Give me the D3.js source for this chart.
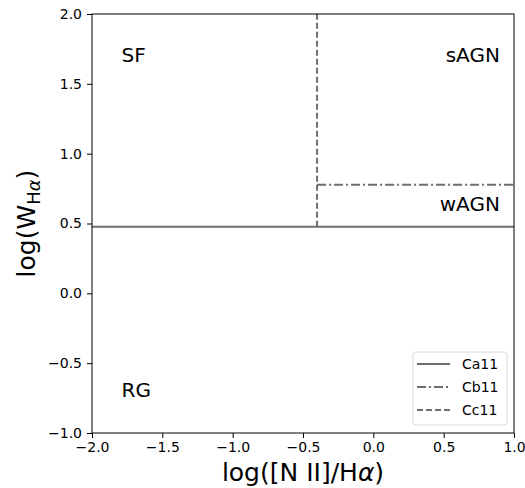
<!DOCTYPE html>
<html>
<head>
<meta charset="utf-8">
<script src="https://cdn.jsdelivr.net/npm/d3@7"></script>
<style>
  body { margin: 0; background: #fff; }
  text { font-family: "DejaVu Sans", sans-serif; }
</style>
</head>
<body>
<svg id="chart" width="525" height="488"></svg>
<script>
// Line definitions (x, y in log units)
const ca11 = [[-2, 0.477], [1, 0.477]];
const cb11 = [[-0.4, 0.778], [1, 0.778]];
const cc11 = [[-0.4, 0.477], [-0.4, 2]];
const series = [
  { name: "Ca11", points: ca11, dash: null },
  { name: "Cb11", points: cb11, dash: "9,3,2,3" },
  { name: "Cc11", points: cc11, dash: "6,3" }
];
const regionLabels = [
  { text: "SF", x: -1.79, y: 1.71, anchor: "start" },
  { text: "sAGN", x: 0.9, y: 1.71, anchor: "end" },
  { text: "wAGN", x: 0.9, y: 0.64, anchor: "end" },
  { text: "RG", x: -1.79, y: -0.69, anchor: "start" }
];
const xTicks = [-2.0, -1.5, -1.0, -0.5, 0.0, 0.5, 1.0];
const yTicks = [-1.0, -0.5, 0.0, 0.5, 1.0, 1.5, 2.0];

const margin = { top: 14, right: 11, bottom: 55, left: 92 };
const width = 525 - margin.left - margin.right;
const height = 488 - margin.top - margin.bottom;
const lineColor = "#6e6e6e";

const svg = d3.select("#chart");
const g = svg.append("g").attr("transform", `translate(${margin.left},${margin.top})`);

const x = d3.scaleLinear().domain([-2, 1]).range([0, width]);
const y = d3.scaleLinear().domain([-1, 2]).range([height, 0]);

const fmt = d => d3.format(".1f")(d).replace("-", "\u2212");

// Axes
const xAxis = g.append("g")
  .attr("transform", `translate(0,${height})`)
  .call(d3.axisBottom(x).tickValues(xTicks).tickFormat(fmt).tickSize(5).tickPadding(4));
const yAxis = g.append("g")
  .call(d3.axisLeft(y).tickValues(yTicks).tickFormat(fmt).tickSize(5).tickPadding(5));
[xAxis, yAxis].forEach(a => {
  a.attr("font-size", 14).attr("font-family", null);
  a.select(".domain").remove();
  a.selectAll("line").attr("stroke", "#000").attr("stroke-width", 1);
  a.selectAll("text").attr("fill", "#000");
});

// Lines
const line = d3.line().x(d => x(d[0])).y(d => y(d[1]));
series.forEach(s => {
  g.append("path")
    .datum(s.points)
    .attr("d", line)
    .attr("fill", "none")
    .attr("stroke", lineColor)
    .attr("stroke-width", 2)
    .attr("stroke-dasharray", s.dash);
});

// Frame
g.append("rect")
  .attr("width", width).attr("height", height)
  .attr("fill", "none").attr("stroke", "#000").attr("stroke-width", 1);

// Region labels
g.selectAll(".region")
  .data(regionLabels)
  .enter().append("text")
  .attr("class", "region")
  .attr("x", d => x(d.x))
  .attr("y", d => y(d.y))
  .attr("dy", "0.36em")
  .attr("text-anchor", d => d.anchor)
  .attr("font-size", 20)
  .text(d => d.text);

// Legend
const legend = g.append("g").attr("transform", `translate(${width - 101},${height - 81})`);
legend.append("rect")
  .attr("width", 94).attr("height", 73)
  .attr("rx", 3)
  .attr("fill", "#fff").attr("fill-opacity", 0.8)
  .attr("stroke", "#d8d8d8");
series.forEach((s, i) => {
  const row = legend.append("g").attr("transform", `translate(4,${12 + i * 23})`);
  row.append("line")
    .attr("x1", 0).attr("x2", 33).attr("y1", 0).attr("y2", 0)
    .attr("stroke", lineColor).attr("stroke-width", 2)
    .attr("stroke-dasharray", s.dash);
  row.append("text")
    .attr("x", 45).attr("dy", "0.36em")
    .attr("font-size", 14)
    .text(s.name);
});

// Axis labels
svg.append("text")
  .attr("x", margin.left + width / 2)
  .attr("y", 481)
  .attr("text-anchor", "middle")
  .attr("font-size", 25)
  .html('log([N II]/H<tspan font-style="italic">α</tspan>)');

svg.append("text")
  .attr("transform", `translate(35,${margin.top + height / 2}) rotate(-90)`)
  .attr("text-anchor", "middle")
  .attr("font-size", 25)
  .html('log(W<tspan font-size="18" dy="5">H<tspan font-style="italic">α</tspan></tspan><tspan dy="-5">)</tspan>');
</script>
</body>
</html>
